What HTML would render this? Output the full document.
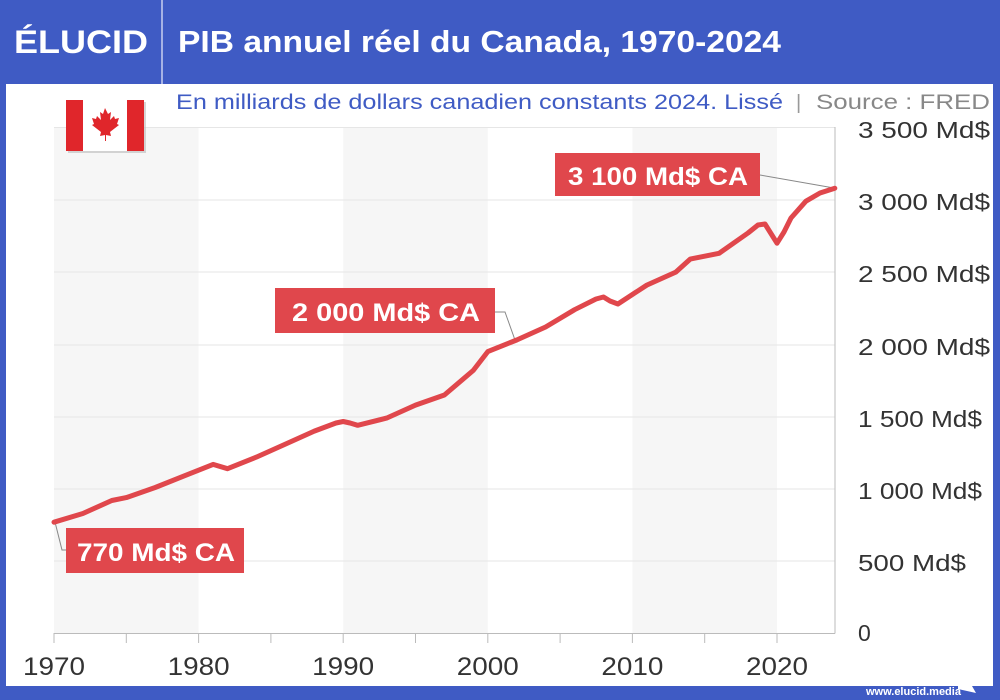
<!DOCTYPE html>
<html><head><meta charset="utf-8"><style>
body{margin:0;width:1000px;height:700px;overflow:hidden;background:#3f5bc4;font-family:"Liberation Sans",sans-serif}
</style></head><body>
<svg width="1000" height="700" xmlns="http://www.w3.org/2000/svg" style="position:absolute;left:0;top:0">
<rect x="0" y="0" width="1000" height="700" fill="#3f5bc4"/>
<rect x="6" y="84" width="987" height="602" fill="#fff"/>
<line x1="162" y1="0" x2="162" y2="84" stroke="#c8d0f0" stroke-width="1.5"/>
<text x="14" y="53" fill="#fff" font-size="32" font-weight="bold" textLength="134" lengthAdjust="spacingAndGlyphs">ÉLUCID</text>
<text x="178" y="52" fill="#fff" font-size="31" font-weight="bold" textLength="603" lengthAdjust="spacingAndGlyphs">PIB annuel réel du Canada, 1970-2024</text>
<text x="176" y="109" fill="#3f5bc4" font-size="21" textLength="607" lengthAdjust="spacingAndGlyphs">En milliards de dollars canadien constants 2024. Lissé</text>
<text x="796" y="109" fill="#999" font-size="20">|</text>
<text x="816" y="109" fill="#888" font-size="21" textLength="174" lengthAdjust="spacingAndGlyphs">Source : FRED</text>
<rect x="54" y="127" width="144.6" height="506" fill="#f6f6f6"/>
<rect x="343.2" y="127" width="144.6" height="506" fill="#f6f6f6"/>
<rect x="632.4" y="127" width="144.6" height="506" fill="#f6f6f6"/>
<g stroke="#e6e6e6" stroke-width="1">
<line x1="54" y1="127.5" x2="835" y2="127.5"/>
<line x1="54" y1="200" x2="835" y2="200"/>
<line x1="54" y1="272" x2="835" y2="272"/>
<line x1="54" y1="345" x2="835" y2="345"/>
<line x1="54" y1="417" x2="835" y2="417"/>
<line x1="54" y1="489" x2="835" y2="489"/>
<line x1="54" y1="561" x2="835" y2="561"/>
</g>
<line x1="54" y1="633.5" x2="835" y2="633.5" stroke="#bbb"/>
<line x1="835" y1="127" x2="835" y2="633.5" stroke="#bbb"/>
<g stroke="#bbb">
<line x1="54" y1="633" x2="54" y2="643"/><line x1="126.3" y1="633" x2="126.3" y2="643"/>
<line x1="198.6" y1="633" x2="198.6" y2="643"/><line x1="270.9" y1="633" x2="270.9" y2="643"/>
<line x1="343.2" y1="633" x2="343.2" y2="643"/><line x1="415.5" y1="633" x2="415.5" y2="643"/>
<line x1="487.8" y1="633" x2="487.8" y2="643"/><line x1="560.1" y1="633" x2="560.1" y2="643"/>
<line x1="632.4" y1="633" x2="632.4" y2="643"/><line x1="704.7" y1="633" x2="704.7" y2="643"/>
<line x1="777" y1="633" x2="777" y2="643"/>
</g>
<g fill="#333" font-size="25">
<text x="23" y="675" textLength="62" lengthAdjust="spacingAndGlyphs">1970</text>
<text x="167.6" y="675" textLength="62" lengthAdjust="spacingAndGlyphs">1980</text>
<text x="312.2" y="675" textLength="62" lengthAdjust="spacingAndGlyphs">1990</text>
<text x="456.8" y="675" textLength="62" lengthAdjust="spacingAndGlyphs">2000</text>
<text x="601.4" y="675" textLength="62" lengthAdjust="spacingAndGlyphs">2010</text>
<text x="746" y="675" textLength="62" lengthAdjust="spacingAndGlyphs">2020</text>
</g>
<g fill="#333" font-size="23">
<text x="858" y="138" textLength="132" lengthAdjust="spacingAndGlyphs">3 500 Md$</text>
<text x="858" y="210" textLength="132" lengthAdjust="spacingAndGlyphs">3 000 Md$</text>
<text x="858" y="282" textLength="132" lengthAdjust="spacingAndGlyphs">2 500 Md$</text>
<text x="858" y="355" textLength="132" lengthAdjust="spacingAndGlyphs">2 000 Md$</text>
<text x="858" y="427" textLength="124" lengthAdjust="spacingAndGlyphs">1 500 Md$</text>
<text x="858" y="499" textLength="124" lengthAdjust="spacingAndGlyphs">1 000 Md$</text>
<text x="858" y="571" textLength="108" lengthAdjust="spacingAndGlyphs">500 Md$</text>
<text x="858" y="641">0</text>
</g>
<g stroke="#888" fill="none" stroke-width="1">
<polyline points="55,522 62,550 70,550"/>
<polyline points="515,340 505,312 495,312"/>
<polyline points="834,188 760,175"/>
</g>
<polyline fill="none" stroke="#e0474c" stroke-width="5" stroke-linejoin="round" stroke-linecap="round" points="54,522.2 82.9,513.5 111.8,500.5 126.3,497.6 155.2,487.5 184.1,475.9 213.1,464.4 227.5,468.7 256.4,457.1 285.4,444.1 314.3,431.1 336,423 343.2,421.5 350,423 357.7,425.3 386.6,418.1 415.5,405.1 444.4,395 473.3,370.4 487.8,351.6 516.7,340 545.6,327 574.6,309.7 596,299 603.5,297 610,301 617.9,304 646.8,285.1 675.8,272.1 690.2,259.1 719.1,253.3 748,233 758,225 765,224 770,232 777,243.2 784,232 791,218 805.9,201.2 820,193 834.8,188.2"/>
<rect x="66" y="528" width="178" height="45" fill="#e0474c"/>
<text x="77" y="561" fill="#fff" font-size="25" font-weight="bold" textLength="158" lengthAdjust="spacingAndGlyphs">770 Md$ CA</text>
<rect x="275" y="288" width="220" height="45" fill="#e0474c"/>
<text x="292" y="321" fill="#fff" font-size="25" font-weight="bold" textLength="188" lengthAdjust="spacingAndGlyphs">2 000 Md$ CA</text>
<rect x="555" y="153" width="205" height="43" fill="#e0474c"/>
<text x="568" y="185" fill="#fff" font-size="25" font-weight="bold" textLength="180" lengthAdjust="spacingAndGlyphs">3 100 Md$ CA</text>
<rect x="68" y="102" width="78" height="51" fill="#bbb" opacity="0.6"/>
<rect x="66" y="100" width="78" height="51" fill="#fff"/>
<rect x="66" y="100" width="17" height="51" fill="#e0262b"/>
<rect x="127" y="100" width="17" height="51" fill="#e0262b"/>
<path d="M105 108 l3 6 3-2 -1 8 4-4 1 3 4-1 -2 6 2 1 -9 7 1 4 -5-1 v6 h-1 v-6 l-5 1 1-4 -9-7 2-1 -2-6 4 1 1-3 4 4 -1-8 3 2z" fill="#e0262b"/>
<text x="866" y="695" fill="#fff" font-size="11" font-weight="bold">www.elucid.media</text>
<path d="M958 684 l18-6 -4 8 4 7 -18-4z" fill="#fff"/>
</svg>
</body></html>
